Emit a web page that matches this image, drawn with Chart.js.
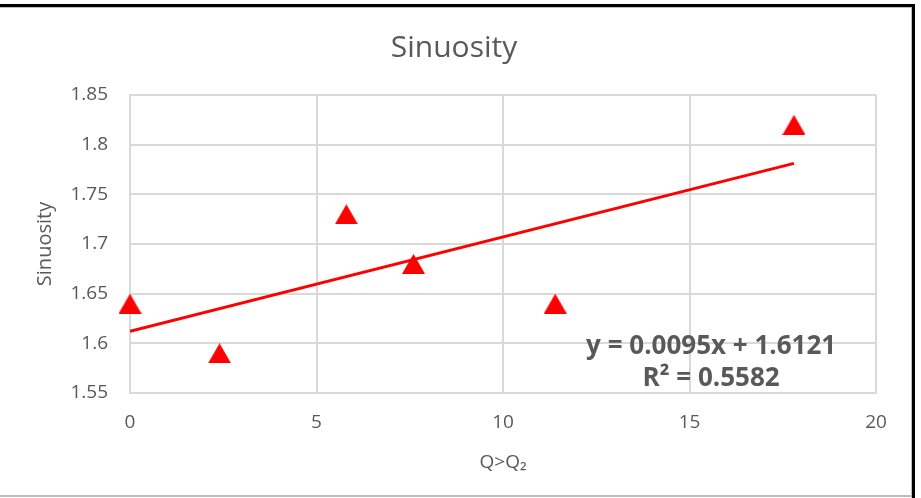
<!DOCTYPE html>
<html>
<head>
<meta charset="utf-8">
<title>Sinuosity</title>
<script src="https://cdn.jsdelivr.net/npm/chart.js@4"></script>
<style>
  html, body { margin: 0; padding: 0; background: #fff; }
  #wrap { position: relative; width: 921px; height: 498px; }
</style>
</head>
<body>
<div id="wrap"><canvas id="grafica"></canvas></div>
<script>
// ========== DATOS ===================
const discharge = [0, 2.4, 5.8, 7.6, 11.4, 17.8];   // Q>Q2
const sinuosity = [1.64, 1.59, 1.73, 1.68, 1.64, 1.82];

const xTicks = [0, 5, 10, 15, 20];
const yTicks = [1.55, 1.6, 1.65, 1.7, 1.75, 1.8, 1.85];

// linear fit as printed on the chart
const slope = 0.0095;
const intercept = 1.6121;
const rSquared = 0.5582;
const eqLines = ["y = " + slope + "x + " + intercept, "R\u00b2 = " + rSquared];
const eqPos = { x: 15.58, y: [1.597, 1.565] };

// -------------- UTILS ----------------
const GRIS = "#595959";
const REJILLA = "#d9d9d9";
const ROJO = "#ff0000";
const FUENTE = "'Open Sans', sans-serif";

// red triangle marker, centred on its box
function marcaTriangulo(){
  const c = document.createElement("canvas");
  c.width = 23; c.height = 20;
  const g = c.getContext("2d");
  g.fillStyle = ROJO;
  g.beginPath();
  g.moveTo(11.5, 0);
  g.lineTo(23, 20);
  g.lineTo(0, 20);
  g.closePath();
  g.fill();
  return c;
}

const trendX = [discharge[0], discharge[discharge.length - 1]];
const trendPts = trendX.map(x => ({ x, y: intercept + slope * x }));

// ========== PLUGINS ==========
const marco = {
  id: "marco",
  beforeDraw(chart){
    const g = chart.ctx;
    g.save();
    g.fillStyle = "#fff";
    g.fillRect(0, 0, chart.width, chart.height);
    g.restore();
  },
  afterDraw(chart){
    const g = chart.ctx;
    g.save();
    g.fillStyle = "#000";
    g.fillRect(0, 4, 915, 3);
    g.fillRect(912, 4, 3, 494);
    g.fillStyle = "#bdbdbd";
    g.fillRect(0, 7, 912, 1);
    g.fillRect(911, 7, 1, 491);
    g.fillRect(0, 495, 912, 2);
    g.restore();
  }
};

const ecuacion = {
  id: "ecuacion",
  afterDatasetsDraw(chart){
    const g = chart.ctx;
    const sx = chart.scales.x, sy = chart.scales.y;
    g.save();
    g.fillStyle = GRIS;
    g.font = "bold 26px " + FUENTE;
    g.textAlign = "center";
    g.textBaseline = "middle";
    eqLines.forEach((t, i) => {
      g.fillText(t, sx.getPixelForValue(eqPos.x), sy.getPixelForValue(eqPos.y[i]));
    });
    g.restore();
  }
};

// ========== GRAFICA ==========
const ctx = document.getElementById("grafica");
new Chart(ctx, {
  type: "scatter",
  data: {
    datasets: [
      {
        label: "Sinuosity",
        data: discharge.map((x, i) => ({ x, y: sinuosity[i] })),
        pointStyle: marcaTriangulo(),
        clip: false,
        order: 1
      },
      {
        type: "line",
        label: "Linear",
        data: trendPts,
        borderColor: ROJO,
        borderWidth: 3,
        pointRadius: 0,
        fill: false,
        order: 2
      }
    ]
  },
  options: {
    responsive: true,
    maintainAspectRatio: false,
    animation: false,
    layout: { padding: { left: 32, right: 45, top: 10, bottom: 10 } },
    plugins: {
      legend: { display: false },
      tooltip: { enabled: false },
      title: {
        display: true,
        text: "Sinuosity",
        color: GRIS,
        font: { family: FUENTE, size: 30, weight: "normal" },
        padding: { top: 20, bottom: 29 }
      }
    },
    scales: {
      x: {
        type: "linear",
        min: 0, max: 20,
        afterBuildTicks: s => { s.ticks = xTicks.map(v => ({ value: v })); },
        afterFit: s => { s.height = 95; },
        grid: { color: REJILLA, lineWidth: 2, drawTicks: false },
        border: { color: REJILLA, width: 2 },
        ticks: { color: GRIS, font: { family: FUENTE, size: 19 }, padding: 18 },
        title: {
          display: true, text: "Q>Q\u2082", color: GRIS,
          font: { family: FUENTE, size: 19 }, padding: { top: 0, bottom: 14 }
        }
      },
      y: {
        min: 1.55, max: 1.85,
        afterBuildTicks: s => { s.ticks = yTicks.map(v => ({ value: v })); },
        afterFit: s => { s.width = 98; },
        grid: { color: REJILLA, lineWidth: 2, drawTicks: false },
        border: { color: REJILLA, width: 2 },
        ticks: {
          color: GRIS, font: { family: FUENTE, size: 19 }, padding: 22,
          callback: v => String(+v.toFixed(2))
        },
        title: {
          display: true, text: "Sinuosity", color: GRIS,
          font: { family: FUENTE, size: 20 }, padding: { top: 1, bottom: 0 }
        }
      }
    }
  },
  plugins: [marco, ecuacion]
});
</script>
</body>
</html>
